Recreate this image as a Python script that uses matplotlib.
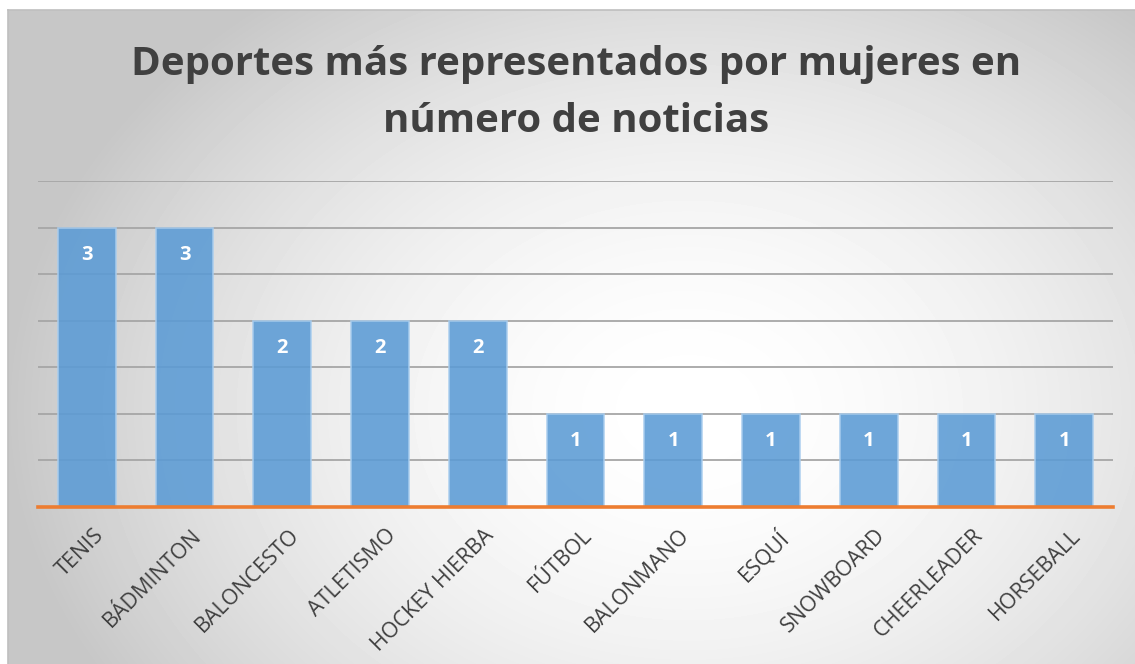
import matplotlib.pyplot as plt
from matplotlib.transforms import ScaledTranslation
import numpy as np

deportes = ['TENIS', 'BÁDMINTON', 'BALONCESTO', 'ATLETISMO', 'HOCKEY HIERBA',
            'FÚTBOL', 'BALONMANO', 'ESQUÍ', 'SNOWBOARD', 'CHEERLEADER', 'HORSEBALL']
noticias = [3, 3, 2, 2, 2, 1, 1, 1, 1, 1, 1]

W, H = 1135, 664
fig = plt.figure(figsize=(W / 100, H / 100), dpi=100)
fig.patch.set_facecolor('white')

# fondo con degradado radial
bg = fig.add_axes([8 / W, 0, 1 - 8 / W, 654 / H], zorder=-1)
yy, xx = np.mgrid[0:654, 0:1127]
r = np.sqrt(((xx - 680) / 680.0) ** 2 + ((yy - 400) / 520.0) ** 2)
shade = 1.0 - 0.22 * np.clip(r, 0, 1.0) ** 1.8
bg.imshow(shade, cmap='gray', vmin=0, vmax=1, aspect='auto', interpolation='bilinear')
bg.set_xticks([])
bg.set_yticks([])
for s in ['right', 'bottom']:
    bg.spines[s].set_visible(False)
for s in ['top', 'left']:
    bg.spines[s].set_color('#bfbfbf')
    bg.spines[s].set_linewidth(1.2)

ax = fig.add_axes([38 / W, 1 - 507 / H, (1113 - 38) / W, (507 - 181) / H])
ax.set_facecolor('none')
x = np.arange(len(deportes))
ax.bar(x, noticias, width=0.59, color='#5b9bd5', alpha=0.88,
       edgecolor='#a9cdee', linewidth=1.2, zorder=3)
ax.set_xlim(-0.5, len(deportes) - 0.5)
ax.set_ylim(0, 3.5)
ax.set_yticks(np.arange(0.5, 3.6, 0.5))
ax.yaxis.grid(True, color='#a6a6a6', linewidth=1.3, zorder=1)
ax.tick_params(axis='y', length=0, labelleft=False)
ax.tick_params(axis='x', length=0)
for s in ['top', 'right', 'left']:
    ax.spines[s].set_visible(False)
ax.spines['bottom'].set_color('#ed7d31')
ax.spines['bottom'].set_linewidth(2.6)
ax.spines['bottom'].set_zorder(5)

ax.set_xticks(x)
ax.set_xticklabels(deportes, rotation=45, ha='right', va='top',
                   rotation_mode='anchor', fontsize=15.5, color='#404040',
                   family='Open Sans')
for lbl in ax.get_xticklabels():
    lbl.set_transform(lbl.get_transform() +
                      ScaledTranslation(0.06, -0.13, fig.dpi_scale_trans))

for xi, v in zip(x, noticias):
    ax.text(xi, v - 0.29, str(v), ha='center', va='center', color='white',
            fontsize=14.5, fontweight='bold', family='Open Sans', zorder=4)

fig.text(0.5075, 1 - 64 / H, 'Deportes más representados por mujeres en',
         ha='center', va='center', fontsize=29, fontweight='bold',
         color='#404040', family='Open Sans')
fig.text(0.5075, 1 - 122 / H, 'número de noticias',
         ha='center', va='center', fontsize=29, fontweight='bold',
         color='#404040', family='Open Sans')

fig.savefig('out.png', dpi=100)
